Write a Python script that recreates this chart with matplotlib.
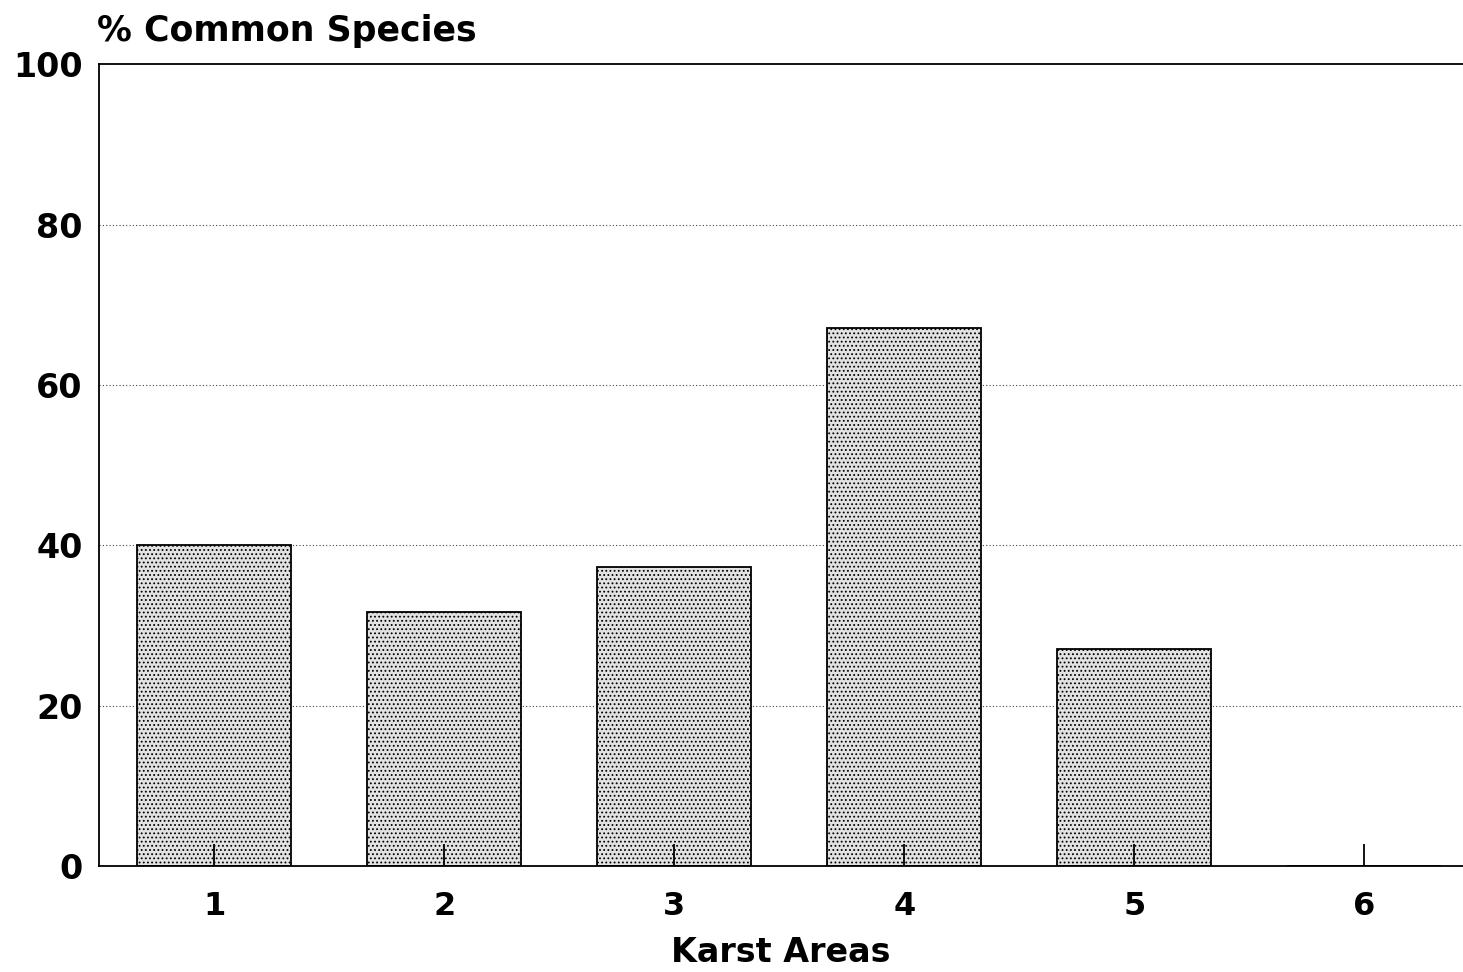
import matplotlib.pyplot as plt

# karst areas and percentage of common species
areas = [1, 2, 3, 4, 5, 6]
common_pct = [40.0, 31.7, 37.3, 67.1, 27.1, 0.0]
y_ticks = [0, 20, 40, 60, 80, 100]

plt.rcParams['font.family'] = ['DejaVu Sans']
plt.rcParams['hatch.color'] = '#5a5a5a'
plt.rcParams['hatch.linewidth'] = 0.8

fig = plt.figure(figsize=(14.63, 9.72), dpi=100)
ax = fig.add_axes([0.068, 0.109, 0.932, 0.825])

# stippled grey bars
ax.bar(areas, common_pct, width=0.67, color='#e2e2e2', edgecolor='black',
       linewidth=1.3, hatch='....', zorder=2)

ax.set_xlim(0.5, 6.43)
ax.set_ylim(0, 100)
ax.set_yticks(y_ticks)
ax.set_xticks(areas)
ax.set_xticklabels([str(a) for a in areas], fontsize=23, fontweight='bold')
ax.set_yticklabels([str(v) for v in y_ticks], fontsize=24, fontweight='bold')
ax.set_axisbelow(False)

# small inward ticks at category centres, none on the y axis
ax.tick_params(axis='x', direction='in', length=16, width=1.3, pad=18)
ax.tick_params(axis='y', length=0, pad=12)

# dotted grid lines
for v in y_ticks[1:-1]:
    ax.axhline(v, color='#444444', linestyle=(0, (1, 2)), linewidth=0.8, zorder=1)

ax.spines['right'].set_visible(False)
for s in ['left', 'top', 'bottom']:
    ax.spines[s].set_linewidth(1.3)

ax.set_xlabel('Karst Areas', fontsize=24, fontweight='bold', labelpad=10)
fig.text(0.066, 0.968, '% Common Species', fontsize=25, fontweight='bold',
         ha='left', va='center')

fig.savefig('out.png', dpi=100)
